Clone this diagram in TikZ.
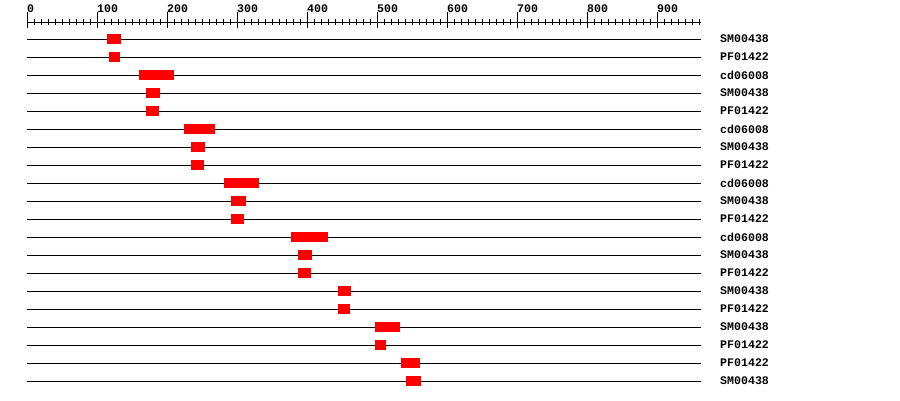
\documentclass[tikz,border=0pt]{standalone}
\usepackage{fontspec}
\setmonofont{Liberation Mono}

\begin{document}
\begin{tikzpicture}[x=1pt, y=-1pt,
    track/.style={line width=1pt},
    hit/.style={fill=red, draw=none},
    domname/.style={anchor=west, inner sep=0pt, font=\fontsize{11.6}{12}\selectfont\ttfamily\bfseries},
    ticklabel/.style={anchor=base west, inner sep=0pt, font=\fontsize{11.6}{12}\selectfont\ttfamily\bfseries}]
     \useasboundingbox (0,0) rectangle (900,400);

     \begin{scope}[shift={(27,0)}, x=0.7pt]
       % ruler
       \draw[track] (0,22) -- (963,22);
       \foreach \p in {0,10,...,960}
         \draw[track] (\p,19) -- (\p,25);
       \foreach \p in {0,100,...,900} {
         \draw[track] (\p,12) -- (\p,28);
         \node[ticklabel] (tick\p) at (\p,12) {\p};
       }

       % domain hits
       \foreach \i/\name/\from/\to in {
           1/SM00438/114/134, 2/PF01422/117/133, 3/cd06008/160/210,
           4/SM00438/170/190, 5/PF01422/170/189, 6/cd06008/224/269,
           7/SM00438/234/254, 8/PF01422/234/253, 9/cd06008/281/331,
           10/SM00438/291/313, 11/PF01422/291/310, 12/cd06008/377/430,
           13/SM00438/387/407, 14/PF01422/387/406, 15/SM00438/444/463,
           16/PF01422/444/461, 17/SM00438/497/533, 18/PF01422/497/513,
           19/PF01422/534/561, 20/SM00438/541/563} {
         \pgfmathsetmacro\ypos{21+18*\i}
         \draw[track] (0,\ypos) -- (963,\ypos);
         \fill[hit] (\from,\ypos-5) rectangle (\to,\ypos+5);
         \node[domname] (dom\i) at (990,\ypos) {\name};
       }
     \end{scope}
   \end{tikzpicture}
\end{document}
